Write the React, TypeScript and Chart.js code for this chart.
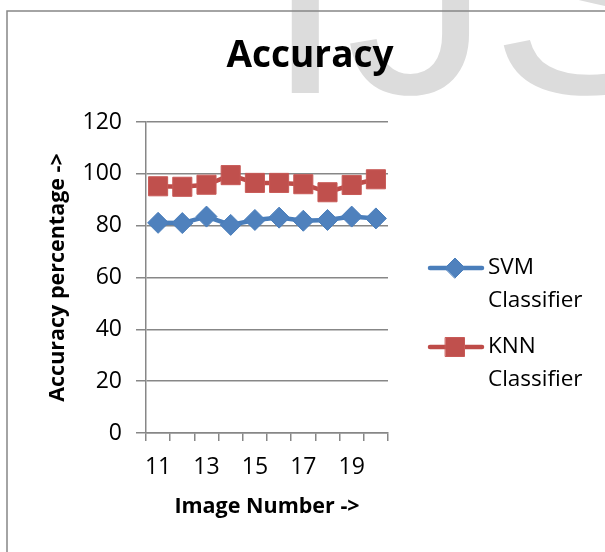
import React, { useEffect, useRef } from "react";
import { Chart, registerables } from "chart.js";

Chart.register(...registerables);

const categories = ["11", "12", "13", "14", "15", "16", "17", "18", "19", "20"];
const svmValues = [81.1, 81, 83.5, 80.3, 82.2, 83.1, 81.9, 82.2, 83.5, 82.8];
const knnValues = [95.2, 95, 95.8, 99.5, 96.5, 96.5, 96, 92.9, 95.7, 97.9];
const seriesNames = [["SVM", "Classifier"], ["KNN", "Classifier"]];
const titleText = "Accuracy";
const xTitle = "Image Number ->";
const yTitle = "Accuracy percentage ->";
const watermark = "IJS";

const GRID = "#878787";
const BLUE = "#4F81BD";
const BLUE_LINE = "#4A7EBB";
const RED = "#C0504D";
const RED_LINE = "#BE4B48";

export default function App() {
  const ref = useRef<HTMLCanvasElement>(null);

  useEffect(() => {
    if (!ref.current) return;
    const decor = {
      id: "decor",
      beforeDraw(chart: any) {
        const ctx = chart.ctx;
        ctx.save();
        ctx.fillStyle = "#dcdcdc";
        ctx.font = "290px 'Liberation Sans'";
        ctx.textAlign = "left";
        ctx.textBaseline = "alphabetic";
        ctx.fillText(watermark, 265, 93);
        ctx.strokeStyle = GRID;
        ctx.lineWidth = 1.5;
        ctx.strokeRect(7, 11, 800, 800);
        ctx.fillStyle = "#000";
        ctx.font = "bold 37px 'Open Sans'";
        ctx.textAlign = "center";
        ctx.fillText(titleText, 310, 67);
        ctx.restore();
      },
      afterDraw(chart: any) {
        const ctx = chart.ctx;
        ctx.save();
        const ys = [268, 347];
        chart.data.datasets.forEach((ds: any, i: number) => {
          const y = ys[i];
          ctx.strokeStyle = ds.borderColor;
          ctx.lineWidth = ds.borderWidth;
          ctx.lineCap = "round";
          ctx.beginPath();
          ctx.moveTo(430, y);
          ctx.lineTo(482, y);
          ctx.stroke();
          ctx.fillStyle = ds.pointBackgroundColor;
          ctx.strokeStyle = ds.pointBorderColor;
          ctx.lineWidth = 1;
          ctx.beginPath();
          const cx = 455;
          if (ds.pointStyle === "rectRot") {
            const r = 10;
            ctx.moveTo(cx - r, y);
            ctx.lineTo(cx, y - r);
            ctx.lineTo(cx + r, y);
            ctx.lineTo(cx, y + r);
            ctx.closePath();
          } else {
            const h = 9.5;
            ctx.rect(cx - h, y - h, 2 * h, 2 * h);
          }
          ctx.fill();
          ctx.stroke();
          ctx.fillStyle = "#000";
          ctx.font = "22.5px 'Open Sans'";
          ctx.textAlign = "left";
          ctx.textBaseline = "middle";
          const lines = seriesNames[i];
          ctx.fillText(lines[0], 488, y);
          ctx.fillText(lines[1], 488, y + 33);
        });
        ctx.restore();
      },
    };

    const chart = new Chart(ref.current, {
      type: "line",
      data: {
        labels: categories,
        datasets: [
          {
            label: "SVM Classifier",
            data: svmValues,
            borderColor: BLUE_LINE,
            borderWidth: 4.5,
            pointStyle: "rectRot",
            pointRadius: 10.5,
            pointBackgroundColor: BLUE,
            pointBorderColor: BLUE_LINE,
            pointBorderWidth: 1,
            tension: 0,
          },
          {
            label: "KNN Classifier",
            data: knnValues,
            borderColor: RED_LINE,
            borderWidth: 4.5,
            pointStyle: "rect",
            pointRadius: 13.5,
            pointBackgroundColor: RED,
            pointBorderColor: "#C85A57",
            pointBorderWidth: 1,
            tension: 0,
          },
        ],
      },
      options: {
        responsive: false,
        animation: false,
        layout: { padding: { top: 122, right: 217, left: 0, bottom: 0 } },
        plugins: {
          legend: { display: false },
          title: { display: false },
          tooltip: { enabled: false },
        },
        scales: {
          x: {
            offset: true,
            afterFit: (s: any) => {
              s.height = 119;
            },
            grid: {
              offset: true,
              drawOnChartArea: false,
              drawTicks: true,
              tickLength: 8,
              color: GRID,
              lineWidth: 1.5,
            },
            border: { color: GRID, width: 1.5 },
            ticks: {
              autoSkip: false,
              maxRotation: 0,
              padding: 13,
              color: "#000",
              font: { family: "'Open Sans'", size: 23 },
              callback: (_v: any, i: number) => (i % 2 === 0 ? categories[i] : ""),
            },
            title: {
              display: true,
              text: xTitle,
              color: "#000",
              font: { family: "'Open Sans'", size: 21.5, weight: "bold" },
              padding: { top: 0, bottom: 32 },
            },
          },
          y: {
            min: 0,
            max: 120,
            afterFit: (s: any) => {
              s.width = 146;
            },
            grid: {
              color: GRID,
              lineWidth: 1.5,
              drawTicks: true,
              tickLength: 10,
            },
            border: { color: GRID, width: 1.5 },
            ticks: {
              stepSize: 20,
              padding: 14,
              color: "#000",
              font: { family: "'Open Sans'", size: 23 },
            },
            title: {
              display: true,
              text: yTitle,
              color: "#000",
              font: { family: "'Open Sans'", size: 21.5, weight: "bold" },
              padding: { top: 45, bottom: 0 },
            },
          },
        },
      },
      plugins: [decor],
    });
    return () => chart.destroy();
  }, []);

  return (
    <div style={{ position: "fixed", left: 0, top: 0, width: 605, height: 552, background: "#fff" }}>
      <canvas ref={ref} width={605} height={552} style={{ display: "block" }} />
    </div>
  );
}
